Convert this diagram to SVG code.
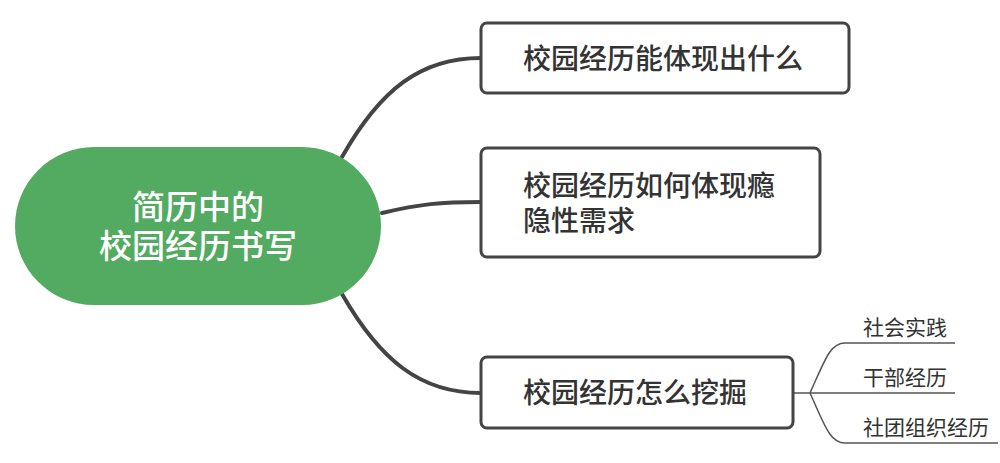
<svg xmlns="http://www.w3.org/2000/svg" width="1000" height="463" viewBox="0 0 1000 463">
<style>
.box{fill:#fff;stroke:#444;stroke-width:3}
.t{font-family:"Noto Sans CJK SC","Noto Sans",sans-serif;font-size:28px;font-weight:500;fill:#333}
.s{font-family:"Noto Sans CJK SC","Noto Sans",sans-serif;font-size:21px;fill:#333}
.r{font-family:"Noto Sans CJK SC","Noto Sans",sans-serif;font-size:33px;font-weight:500;fill:#fff}
.c{fill:none;stroke:#444;stroke-width:4;stroke-linecap:round}
.c2{fill:none;stroke:#555;stroke-width:1.5}
</style>
<rect width="1000" height="463" fill="#fff"/>
<g id="connectors">
<path class="c" d="M342,157 C380,90 420,58 481,58"/>
<path class="c" d="M382,213 C420,204 440,202 481,202"/>
<path class="c" d="M342,294 C380,360 420,393 481,393"/>
<path class="c2" d="M793,393 H810"/>
<path class="c2" d="M810,393 C825,360 830,343 845,343 H955"/>
<path class="c2" d="M810,393 H955"/>
<path class="c2" d="M810,393 C825,426 830,443 845,443 H998"/>
</g>
<g id="root">
<rect x="15" y="147" width="366" height="158" rx="79" ry="79" fill="#53AB62"/>
<text class="r" x="198" y="219" text-anchor="middle">简历中的</text>
<text class="r" x="198" y="258" text-anchor="middle">校园经历书写</text>
</g>
<g id="n1">
<rect class="box" x="481" y="23" width="368" height="70" rx="6"/>
<text class="t" x="523" y="69">校园经历能体现出什么</text>
</g>
<g id="n2">
<rect class="box" x="481" y="148" width="339" height="109" rx="6"/>
<text class="t" x="523" y="196">校园经历如何体现瘾</text>
<text class="t" x="523" y="231">隐性需求</text>
</g>
<g id="n3">
<rect class="box" x="481" y="357" width="312" height="71" rx="6"/>
<text class="t" x="523" y="403">校园经历怎么挖掘</text>
</g>
<g id="s1"><text class="s" x="863" y="335">社会实践</text></g>
<g id="s2"><text class="s" x="863" y="385">干部经历</text></g>
<g id="s3"><text class="s" x="863" y="435">社团组织经历</text></g>
</svg>
